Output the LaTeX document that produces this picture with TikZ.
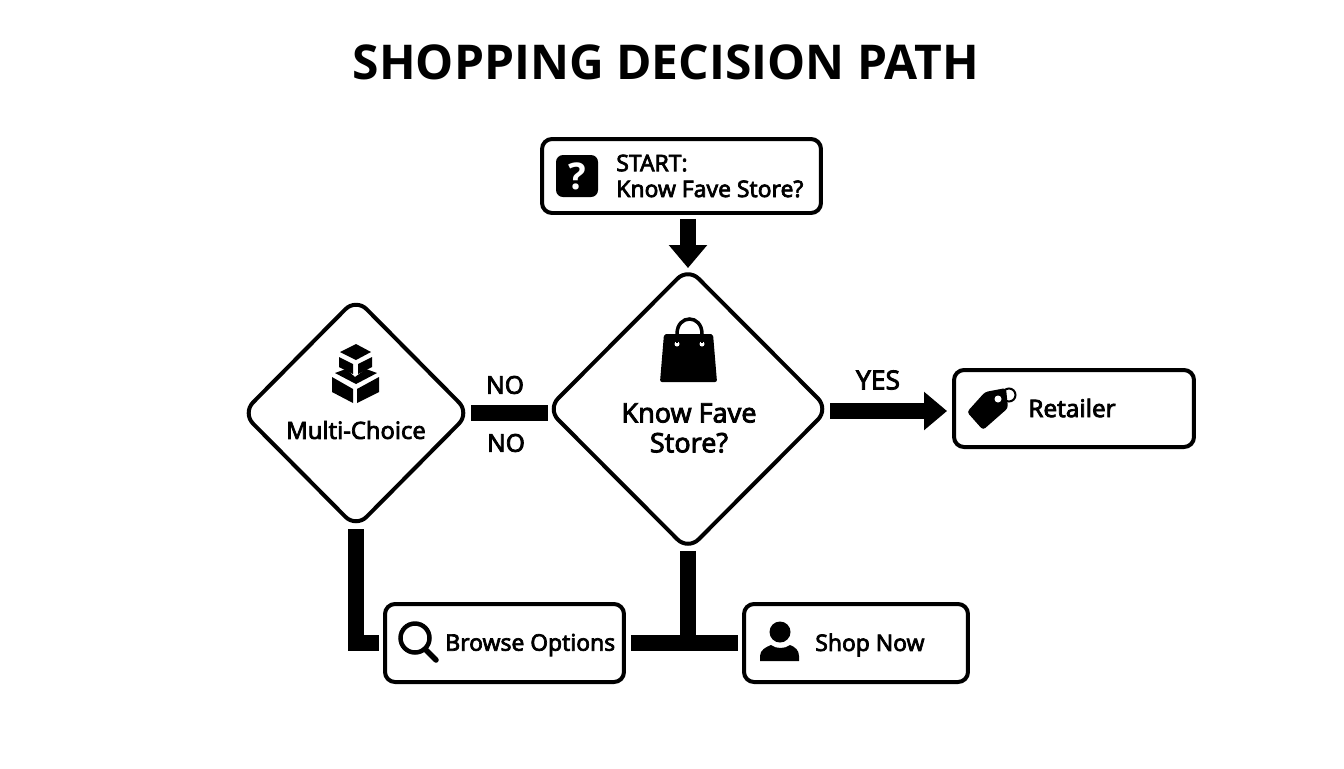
\documentclass[tikz,border=0pt]{standalone}
\usepackage{fontspec}
\setmainfont{Noto Sans}
\newfontfamily\medfont{Noto Sans}[FakeBold=3]
\newfontfamily\titlefont{Open Sans}
\usetikzlibrary{arrows.meta,shapes.geometric}
\tikzset{
	box/.style={draw, line width=0.08cm, rounded corners=0.2cm, inner sep=0, outer sep=0},
	choice/.style={draw, diamond, line width=0.08cm, rounded corners=0.3cm, inner sep=0, outer sep=0},
	bar/.style={line width=0.32cm},
	bararrow/.style={bar, -{Triangle[length=0.46cm, width=0.74cm]}},
	boxtext/.style={font=\medfont\fontsize{#1}{14.7}\selectfont, inner sep=0, align=left},
	boxtext/.default=13,
	choicetext/.style={font=\medfont\fontsize{#1}{17}\selectfont, inner sep=0, align=center},
	choicetext/.default=15.3
}

\begin{document}
\begin{tikzpicture}[x=0.02cm, y=-0.02cm]
		%%%%% START %%%%%
		\useasboundingbox (0, 0) rectangle (1344, 768);
		\node[font=\titlefont\bfseries\fontsize{27.3}{32}\selectfont, inner sep=0] (title) at (666, 62) {SHOPPING DECISION PATH};
		
		\node[box, minimum width=5.58cm, minimum height=1.48cm] (start) at (681.5, 176) {};
		\node[choice, minimum width=5.62cm, minimum height=5.64cm] (know) at (688, 409) {};
		\node[choice, minimum width=4.54cm, minimum height=4.58cm] (multi) at (356, 413) {};
		\node[box, minimum width=4.8cm, minimum height=1.54cm] (retailer) at (1074, 408.5) {};
		\node[box, minimum width=4.78cm, minimum height=1.56cm] (browse) at (504.5, 643) {};
		\node[box, minimum width=4.48cm, minimum height=1.56cm] (shop) at (856, 643) {};
		
		\node[boxtext, anchor=west] (starttext) at (616, 176) {START:\\Know Fave Store?};
		\node[choicetext] (knowtext) at (689, 428) {Know Fave\\Store?};
		\node[choicetext=13.5] (multitext) at (356, 430) {Multi-Choice};
		\node[boxtext=13.8, anchor=west] (retailertext) at (1028, 408) {Retailer};
		\node[boxtext, anchor=west] (browsetext) at (445, 645) {Browse Options};
		\node[boxtext, anchor=west] (shoptext) at (815, 645) {Shop Now};
		\node[boxtext=14] (noup) at (505, 385) {NO};
		\node[boxtext=14] (nodown) at (506, 443) {NO};
		\node[boxtext=15] (yes) at (878, 380) {YES};
		
		\draw[bararrow, shorten <=0.12cm] (start.south -| know.north) -- (know.north);
		\draw[bararrow, shorten <=0.04cm, shorten >=0.14cm] ([yshift=-0.04cm]know.east) -- ([yshift=-0.04cm]know.east -| retailer.west);
		\draw[bar, shorten <=0.04cm] (multi.east) -- (multi.east -| know.west);
		\draw[bar, shorten <=0.04cm, shorten >=0.12cm] (multi.south) |- (browse.west);
		\draw[bar, shorten <=0.14cm, shorten >=0.12cm] (browse.east) -- (shop.west);
		\draw[bar, shorten <=0.02cm] (know.south) -- (know.south |- shop.west);
		
		% question mark
		\fill[rounded corners=0.14cm] (556, 155) rectangle (598, 197);
		\node[text=white, font=\titlefont\bfseries\fontsize{21}{21}\selectfont, inner sep=0] (mark) at (577, 176) {?};
		
		% bag
		\draw[line width=0.07cm] (677, 342) -- (677, 334) .. controls (677, 314) and (702, 314) .. (702, 334) -- (702, 342);
		\fill[rounded corners=0.04cm] (664, 334) -- (713, 334) -- (717, 382) -- (660, 382) -- cycle;
		\fill[white] (677, 344) circle (0.05cm);
		\fill[white] (702, 344) circle (0.05cm);
		\draw[line width=0.05cm] (677, 334) -- (677, 343);
		\draw[line width=0.05cm] (702, 334) -- (702, 343);
		
		% boxes
		\fill (356, 344) -- (371, 352) -- (356, 360) -- (340, 352) -- cycle;
		\fill (339, 357) -- (353, 364) -- (353, 374) -- (339, 367) -- cycle;
		\fill (372, 357) -- (358, 364) -- (358, 374) -- (372, 367) -- cycle;
		\fill (335, 373) -- (346, 369) -- (355, 377) -- (366, 369) -- (377, 373) -- (356, 384) -- cycle;
		\fill (332, 377) -- (353, 389) -- (353, 403) -- (332, 392) -- cycle;
		\fill (379, 377) -- (357, 389) -- (357, 403) -- (379, 392) -- cycle;
		
		% tag
		\draw[line width=0.04cm] (1009, 395) circle (0.13cm);
		\fill[rounded corners=0.06cm] (967, 412) -- (985, 392) -- (1006, 388) -- (1008, 408) -- (983, 430) -- cycle;
		\fill[white] (998, 399) circle (0.07cm);
		
		% magnifier
		\draw[line width=0.09cm] (415, 638) circle (0.29cm);
		\draw[line width=0.11cm, line cap=round] (425, 649) -- (436, 660);
		
		% person
		\fill (780, 632) circle (0.21cm);
		\fill (760, 661) -- (760, 656) .. controls (760, 650) and (766, 647) .. (771, 645) .. controls (776, 649) and (785, 649) .. (790, 645) .. controls (795, 647) and (799, 650) .. (799, 656) -- (799, 661) -- cycle;
		%%%%% END %%%%%
	\end{tikzpicture}
\end{document}
